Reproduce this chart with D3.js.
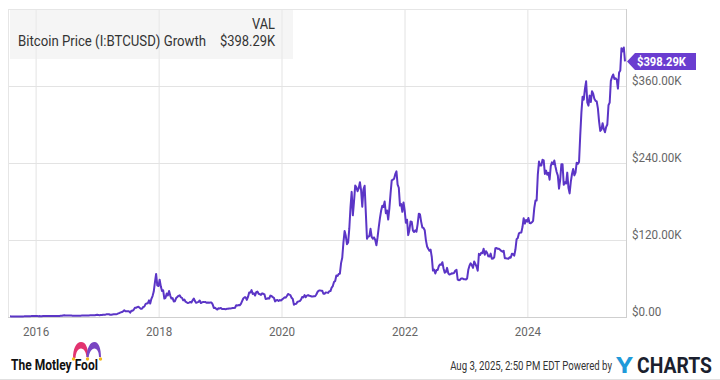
<!DOCTYPE html>
<html>
<head>
<meta charset="utf-8">
<script src="https://cdn.jsdelivr.net/npm/d3@7"></script>
<style>
  html, body { margin: 0; padding: 0; background: #fff; }
  svg { display: block; font-family: Roboto, "Noto Sans", Arial, sans-serif; }
</style>
</head>
<body>
<svg id="chart" width="720" height="380"></svg>
<script>
// ---- DATA (weekly values, $K, growth of investment) ----
const seriesName = "Bitcoin Price (I:BTCUSD) Growth";
const lastValueLabel = "$398.29K";
const valueHeader = "VAL";
const footerDate = "Aug 3, 2025, 2:50 PM EDT";
const yTicks = [0, 120, 240, 360];
const yTickLabels = ["$0.00", "$120.00K", "$240.00K", "$360.00K"];
const xTickYears = [2016, 2018, 2020, 2022, 2024];

const v2015 = [1.00,0.93,0.90,0.80,0.81,0.85,0.81,0.81,0.82,0.84,0.87,0.93,1.00,1.14,1.31,1.12,1.13,1.31,1.39,1.53,1.55,1.48];
const v2016 = [1.52,1.57,1.36,1.42,1.32,1.32,1.43,1.54,1.52,1.42,1.46,1.44,1.46,1.48,1.48,1.51,1.61,1.59,1.61,1.61,1.55,1.86,2.02,2.46,2.68,2.21,2.31,2.28,2.39,2.32,2.19,2.08,2.00,2.04,2.01,2.14,2.13,2.14,2.12,2.15,2.17,2.25,2.31,2.45,2.50,2.48,2.57,2.57,2.69,2.71,2.78,3.15];
const v2017 = [3.52,3.19,2.89,3.23,3.24,3.60,3.52,3.69,4.15,4.46,4.32,3.59,3.37,3.87,4.22,4.15,4.38,4.75,5.62,6.26,7.21,7.73,8.82,10.4,8.96,9.10,8.79,8.79,6.78,9.70,9.67,11.4,14.3,14.4,15.3,16.1,14.5,13.0,12.9,15.5,16.2,20.0,21.1,21.5,26.0,20.9,28.3,32.7,39.7,53.8,67.1,49.2,48.2];
const v2018 = [58.0,47.8,40.4,41.5,28.8,29.9,36.6,33.7,40.4,33.4,28.8,29.5,24.3,24.6,29.5,31.3,33.0,33.7,30.6,29.9,26.0,27.1,23.9,22.8,21.8,22.5,23.5,22.5,26.0,28.8,24.6,22.1,22.8,23.5,25.7,21.8,22.8,23.5,23.2,23.2,22.1,22.5,22.1,22.5,22.5,19.7,14.1,14.4,12.7,11.6,13.7,13.4];
const v2019 = [14.1,12.3,12.3,12.3,12.0,12.7,13.0,13.4,13.4,13.7,14.1,14.1,14.4,18.3,17.9,18.6,18.3,20.4,24.6,28.8,30.6,30.6,26.7,31.3,38.3,38.0,42.0,35.9,36.9,33.4,38.7,39.7,36.2,35.5,34.4,36.9,36.2,35.1,28.1,28.5,29.2,28.8,33.4,32.7,30.9,29.9,24.3,26.0,26.4,25.0,26.4,25.7];
const v2020 = [27.4,28.8,30.6,30.2,32.7,35.9,34.8,34.1,29.9,28.1,19.0,20.4,20.7,23.9,24.3,25.0,27.0,31.3,30.6,34.1,30.9,33.4,34.1,33.0,32.7,32.0,32.0,32.3,32.3,35.1,39.0,41.1,41.5,41.1,41.1,36.2,36.2,38.3,38.0,37.6,40.1,40.4,45.7,48.2,54.5,56.2,64.7,64.0,67.1,67.5,84.0,92.4];
const v2021 = [116,134,126.5,113.5,116.3,138,171,195,158.5,180,205,202,196,200.7,210,197.5,172,199,204.6,163,122,125.5,125.8,137.4,124.8,122,124,120,111.8,124.4,140.2,154,165.6,173.3,171.5,180,161.7,166,151.8,169.4,192.3,213,214,215.5,222.5,227,206.3,201.4,173.6,176,164,178.6];
const v2022 = [166,147,151.5,127.6,135.3,149,148.3,134.6,132.5,135,132.9,144.8,161,160,148.3,139.5,138.8,135.3,119.9,110,106.5,103.3,105,93.5,72.4,73.8,67.8,73.1,73.1,79.4,81.9,81.5,85.4,75.6,68.9,70.3,76.6,68.2,66.1,66.8,68.2,67.8,68.9,72.4,73.5,58.3,57.3,58.0,60.1,60.1,59.0,59.0];
const v2023 = [58.3,60.1,73.5,79.8,83.7,80.5,76.6,86.5,82.6,78.7,72.0,98.4,96.7,100.2,99.5,106.5,97.0,102.6,99.8,94.6,94.2,98.8,90.7,91.0,93.1,107.2,107.6,106.2,106.2,104.7,103.0,101.9,103.3,91.7,91.4,91.0,90.7,93.1,92.4,98.4,98.1,95.6,105.1,121.3,123.0,130.4,131.5,131.8,140.2,154.0,145.5,151.1,148.7];
const v2024 = [154.3,146.6,146.2,147.6,149.7,169.8,181.4,181.7,221.8,242.2,236,236.2,245,244,222.9,228.1,221.8,224.6,214,235.2,241,238.3,244,234.1,226,220.4,200,213.7,238,238,206,210,208,225,201.4,192.6,210.5,222.5,230.6,220.7,225,240.4,238.7,241.5,282.6,318.5,343.4,338.8,355.4,367.3,334.3,329.4];
const v2025 = [345,335,352,348,340,337,336,325,305,290,292,302,293,288,296,300,330,334,368,374,378,371,372,370,356,381,384,419,414,420,398.29];

// first weekly (Sunday) date of each yearly block
const blockStarts = ["2015-08-02","2016-01-03","2017-01-01","2018-01-07","2019-01-06","2020-01-05","2021-01-03","2022-01-02","2023-01-01","2024-01-07","2025-01-05"];
const blockValues = [v2015,v2016,v2017,v2018,v2019,v2020,v2021,v2022,v2023,v2024,v2025];

const data = [];
blockValues.forEach((vals, i) => {
  const s = new Date(blockStarts[i] + "T00:00:00Z");
  vals.forEach((v, j) => data.push({ date: d3.utcDay.offset(s, 7 * j), value: v }));
});

// ---- LAYOUT ----
const svg = d3.select("#chart");
const W = 720, H = 380;
const plot = { left: 8, right: 626, top: 9, bottom: 317 };
const lineColor = "#5b35c6";
const tagColor = "#6a3dd0";

svg.append("rect").attr("width", W).attr("height", H).attr("fill", "#fff");

const x = d3.scaleUtc()
  .domain([new Date("2015-07-21T00:00:00Z"), new Date("2025-08-09T00:00:00Z")])
  .range([plot.left, plot.right]);
const y = d3.scaleLinear().domain([0, 480]).range([plot.bottom, plot.top]);

function squeeze(sel, k) {
  sel.each(function () {
    const w = this.getComputedTextLength();
    d3.select(this).attr("textLength", w * k).attr("lengthAdjust", "spacingAndGlyphs");
  });
}
function fitTo(sel, w) {
  sel.attr("textLength", w).attr("lengthAdjust", "spacingAndGlyphs");
}
// place a text inside a group scaled horizontally to reach a target width
function scaledText(px, py, anchor, width, styleFn, str) {
  const g = svg.append("g");
  const t = g.append("text").attr("text-anchor", anchor).text(str);
  styleFn(t);
  const w = t.node().getComputedTextLength();
  g.attr("transform", `translate(${px},${py}) scale(${width / w},1)`);
  return t;
}

// gridlines
const xTickDates = xTickYears.map(yr => new Date(Date.UTC(yr, 0, 1)));
svg.append("g")
  .attr("transform", `translate(0,${plot.bottom})`)
  .call(d3.axisBottom(x).tickValues(xTickDates).tickSize(-(plot.bottom - plot.top)).tickFormat(""))
  .call(g => g.select(".domain").remove())
  .call(g => g.selectAll("line").attr("stroke", "#e3e3e3").attr("stroke-width", 1));
svg.append("g")
  .attr("transform", `translate(${plot.left},0)`)
  .call(d3.axisLeft(y).tickValues(yTicks.filter(d => d > 0)).tickSize(-(plot.right - plot.left)).tickFormat(""))
  .call(g => g.select(".domain").remove())
  .call(g => g.selectAll("line").attr("stroke", "#e3e3e3").attr("stroke-width", 1));

// frame
svg.append("line").attr("x1", plot.left).attr("x2", plot.right).attr("y1", plot.top + 0.5).attr("y2", plot.top + 0.5).attr("stroke", "#e6e6e6");
svg.append("line").attr("x1", plot.left + 0.5).attr("x2", plot.left + 0.5).attr("y1", plot.top).attr("y2", plot.bottom).attr("stroke", "#e6e6e6");
svg.append("line").attr("x1", plot.right + 0.5).attr("x2", plot.right + 0.5).attr("y1", plot.top).attr("y2", plot.bottom).attr("stroke", "#cfcfcf");
svg.append("line").attr("x1", plot.left).attr("x2", plot.right + 1).attr("y1", plot.bottom + 0.5).attr("y2", plot.bottom + 0.5).attr("stroke", "#cfcfcf");

// axes labels
const yAxis = svg.append("g")
  .attr("transform", `translate(${plot.right},0)`)
  .call(d3.axisRight(y).tickValues(yTicks).tickSize(0).tickPadding(6)
    .tickFormat((d, i) => yTickLabels[i]))
  .call(g => g.select(".domain").remove());
yAxis.selectAll("text")
  .attr("dy", null).attr("y", -2)
  .attr("fill", "#666").style("font-size", "12.5px").style("font-family", "Roboto");
squeeze(yAxis.selectAll("text"), 0.93);

const xAxis = svg.append("g")
  .attr("transform", `translate(0,${plot.bottom})`)
  .call(d3.axisBottom(x).tickValues(xTickDates).tickSize(0).tickPadding(10).tickFormat(d3.utcFormat("%Y")))
  .call(g => g.select(".domain").remove());
xAxis.selectAll("text").attr("fill", "#666").style("font-size", "12.5px").style("font-family", "Roboto");
squeeze(xAxis.selectAll("text"), 0.93);

// line
const line = d3.line().x(d => x(d.date)).y(d => y(d.value)).curve(d3.curveLinear);
svg.append("path").datum(data)
  .attr("fill", "none").attr("stroke", lineColor).attr("stroke-width", 2)
  .attr("stroke-linejoin", "round").attr("d", line);

// last value tag
const last = data[data.length - 1];
const ty = y(last.value);
const tx = plot.right + 1;
svg.append("path")
  .attr("d", `M${tx},${ty} L${tx + 8},${ty - 8.5} L${tx + 69},${ty - 8.5} L${tx + 69},${ty + 8.5} L${tx + 8},${ty + 8.5} Z`)
  .attr("fill", tagColor);
const tagText = svg.append("text").attr("x", tx + 10).attr("y", ty + 4.5)
  .attr("fill", "#fff").style("font-size", "12.5px").style("font-weight", "bold").text(lastValueLabel);
fitTo(tagText, 49);

// legend box
svg.append("rect").attr("x", 10).attr("y", 10).attr("width", 283).attr("height", 49)
  .attr("fill", "#ececec").attr("fill-opacity", 0.5);
const vh = svg.append("text").attr("x", 275).attr("y", 29).attr("text-anchor", "end")
  .attr("fill", "#333").style("font-size", "14px").text(valueHeader);
const nm = svg.append("text").attr("x", 18).attr("y", 46)
  .attr("fill", "#333").style("font-size", "14px").text(seriesName);
const lv = svg.append("text").attr("x", 275).attr("y", 46).attr("text-anchor", "end")
  .attr("fill", "#333").style("font-size", "14px").text(lastValueLabel);
fitTo(vh, 23); fitTo(nm, 188); fitTo(lv, 55);

// footer: Motley Fool
scaledText(11, 370, "start", 87,
  t => t.attr("fill", "#111").style("font-size", "15px").style("font-weight", "bold"),
  "The Motley Fool");
// jester hat
const hat = svg.append("g");
hat.append("path").attr("d", "M73,358 C73,349 76,342 81,342 C86,342 88,348 88.5,357 L86.5,357 C86,352 84,348.5 81,348.5 C78,348.5 76,352 75.5,358 Z").attr("fill", "#e2336f");
hat.append("path").attr("d", "M86.5,357 C87,348 90,342 94.5,342 C99,342 101,349 101,357 L99,357 C99,352 97,348.5 94.5,348.5 C91.5,348.5 89.5,352 88.5,357.5 Z").attr("fill", "#7a46c2");
hat.append("circle").attr("cx", 73.5).attr("cy", 359).attr("r", 1.7).attr("fill", "#f2b81d");
hat.append("circle").attr("cx", 87.5).attr("cy", 359).attr("r", 1.7).attr("fill", "#f2b81d");
hat.append("circle").attr("cx", 100.5).attr("cy", 359).attr("r", 1.7).attr("fill", "#f2b81d");

// footer right
scaledText(612, 370, "end", 162,
  t => t.attr("fill", "#333").style("font-size", "12.5px"),
  footerDate + " Powered by");
scaledText(616, 373, "start", 17,
  t => t.attr("fill", "#1f9ad9").style("font-size", "22px").style("font-weight", "bold"),
  "Y");
scaledText(637, 373, "start", 75,
  t => t.attr("fill", "#1b1f2e").style("font-size", "22px").style("font-weight", "bold"),
  "CHARTS");

// outer bottom border
svg.append("line").attr("x1", 0).attr("x2", W).attr("y1", H - 0.5).attr("y2", H - 0.5).attr("stroke", "#e0e0e0");
</script>
</body>
</html>
